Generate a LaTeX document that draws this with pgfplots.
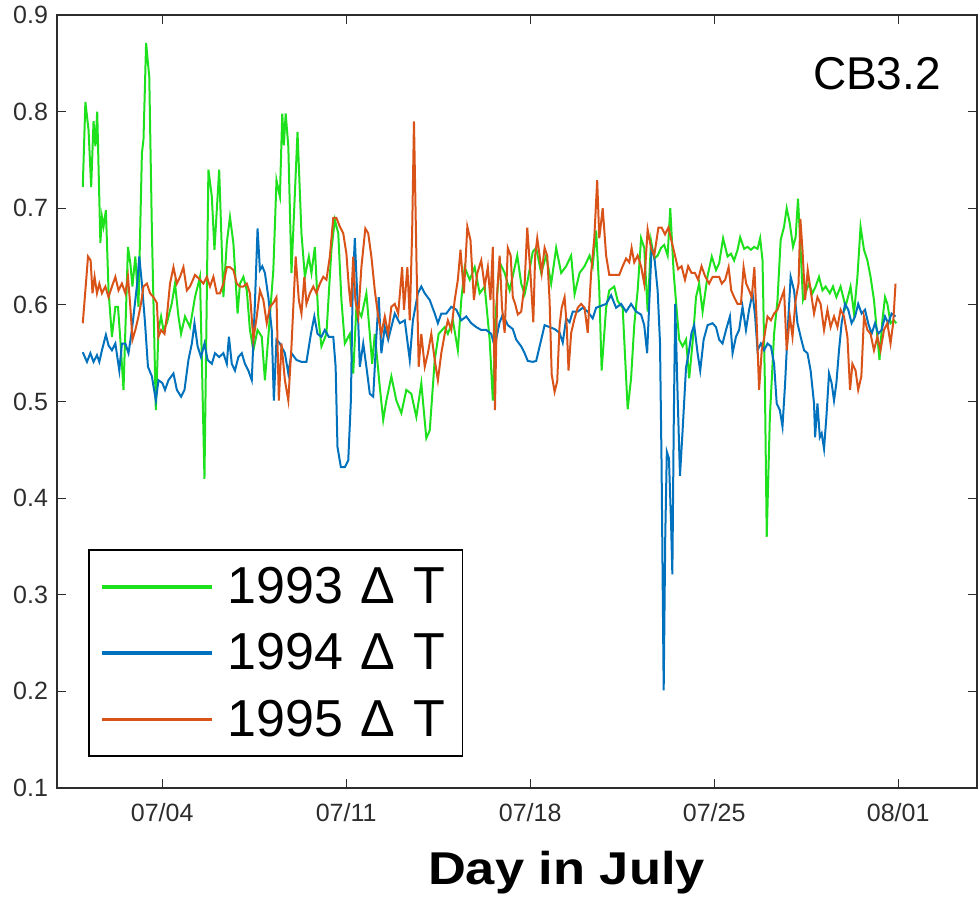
\documentclass[border=0pt]{standalone}
\usepackage{fontspec}
\setmainfont{Liberation Sans}
\usepackage{graphicx}
\usepackage{pgfplots}
\pgfplotsset{compat=1.18}

\definecolor{g93}{RGB}{30,225,30}
\definecolor{b94}{RGB}{0,114,189}
\definecolor{o95}{RGB}{217,83,25}
\definecolor{axgray}{RGB}{45,45,45}

\begin{document}
\begin{tikzpicture}
\path[use as bounding box] (0,0) rectangle (489pt,449.5pt);
\begin{axis}[
    at={(28.5pt,55.5pt)}, anchor=south west,
    scale only axis,
    width=460pt, height=386.5pt,
    xmin=0, xmax=35,
    ymin=0.1, ymax=0.9,
    xtick={4,11,18,25,32},
    xticklabels={07/04,07/11,07/18,07/25,08/01},
    ytick={0.1,0.2,0.3,0.4,0.5,0.6,0.7,0.8,0.9},
    yticklabel style={/pgf/number format/fixed,/pgf/number format/precision=1,xshift=-1pt},
    /pgf/number format/assume math mode=true,
    ticklabel style={font=\fontsize{12.5}{15}\selectfont, text=axgray},
    xticklabel style={yshift=-4pt},
    major tick length=4.7pt,
    tick style={axgray, line width=0.6pt},
    axis line style={axgray, line width=0.6pt},
    legend cell align=left,
    legend style={at={(0.0337,0.0401)}, anchor=south west,
        draw=black, line width=0.8pt,
        inner xsep=5.5pt, inner ysep=5.5pt,
        font=\fontsize{26}{30}\selectfont,
        row sep=7.5pt, column sep=4pt,
        nodes={inner sep=3pt}},
    legend image code/.code={\draw[#1, line width=1.8pt] (0pt,0pt) -- (55pt,0pt);},
    every axis plot/.append style={line width=1pt},
]

% 1993
\addplot[g93] coordinates {
(0.98,0.722)(1.08,0.810)(1.20,0.781)(1.30,0.722)(1.39,0.790)(1.46,0.764)(1.53,0.800)(1.65,0.664)(1.71,0.691)(1.77,0.681)
(1.86,0.698)(1.96,0.615)(2.09,0.567)(2.22,0.598)(2.32,0.598)(2.41,0.564)(2.53,0.512)(2.70,0.660)(2.79,0.643)(2.87,0.619)
(2.98,0.650)(3.10,0.598)(3.23,0.757)(3.29,0.771)(3.39,0.871)(3.51,0.836)(3.61,0.677)(3.76,0.491)(3.86,0.574)(3.96,0.588)
(4.05,0.574)(4.18,0.581)(4.37,0.602)(4.49,0.622)(4.62,0.588)(4.72,0.570)(4.87,0.588)(5.06,0.577)(5.25,0.608)(5.44,0.629)
(5.61,0.420)(5.76,0.740)(5.89,0.712)(5.99,0.657)(6.17,0.740)(6.33,0.608)(6.46,0.664)(6.58,0.691)(6.71,0.664)(6.87,0.591)
(6.96,0.622)(7.09,0.629)(7.22,0.615)(7.34,0.574)(7.47,0.553)(7.63,0.574)(7.79,0.567)(7.91,0.522)(8.06,0.574)(8.23,0.636)
(8.35,0.729)(8.48,0.712)(8.57,0.798)(8.63,0.765)(8.70,0.798)(8.80,0.764)(8.92,0.633)(9.15,0.779)(9.30,0.674)(9.43,0.629)
(9.58,0.650)(9.68,0.633)(9.81,0.660)(9.94,0.588)(10.06,0.557)(10.25,0.570)(10.44,0.657)(10.57,0.688)(10.70,0.674)(10.82,0.605)
(10.95,0.560)(11.14,0.570)(11.27,0.529)(11.39,0.598)(11.58,0.588)(11.77,0.612)(11.90,0.570)(11.99,0.539)(12.09,0.570)(12.28,0.515)
(12.41,0.481)(12.53,0.501)(12.72,0.526)(12.91,0.501)(13.10,0.488)(13.29,0.512)(13.48,0.508)(13.67,0.484)(13.86,0.519)(14.05,0.462)
(14.18,0.470)(14.37,0.543)(14.52,0.570)(14.75,0.577)(14.87,0.570)(15.06,0.584)(15.25,0.553)(15.38,0.605)(15.51,0.639)(15.70,0.626)
(15.89,0.639)(16.08,0.612)(16.27,0.619)(16.46,0.564)(16.58,0.501)(16.71,0.598)(16.84,0.644)(17.03,0.633)(17.22,0.615)(17.34,0.630)
(17.51,0.651)(17.66,0.622)(17.79,0.611)(17.91,0.626)(18.10,0.655)(18.23,0.659)(18.42,0.633)(18.61,0.651)(18.80,0.622)(18.99,0.659)
(19.18,0.633)(19.37,0.640)(19.56,0.651)(19.69,0.611)(19.88,0.633)(20.07,0.640)(20.26,0.651)(20.38,0.640)(20.51,0.677)(20.63,0.615)
(20.72,0.532)(20.89,0.597)(21.01,0.615)(21.20,0.619)(21.33,0.604)(21.52,0.597)(21.71,0.492)(21.84,0.524)(21.96,0.579)(22.09,0.615)
(22.22,0.669)(22.34,0.659)(22.47,0.593)(22.60,0.666)(22.72,0.648)(22.85,0.651)(22.98,0.659)(23.10,0.662)(23.23,0.651)(23.33,0.700)
(23.46,0.633)(23.58,0.593)(23.67,0.564)(23.80,0.557)(23.93,0.564)(24.05,0.524)(24.18,0.561)(24.31,0.608)(24.43,0.622)(24.56,0.593)
(24.75,0.630)(24.91,0.650)(25.07,0.636)(25.19,0.643)(25.34,0.669)(25.51,0.650)(25.64,0.653)(25.76,0.646)(25.89,0.657)(25.99,0.670)
(26.14,0.658)(26.27,0.660)(26.40,0.657)(26.52,0.660)(26.65,0.658)(26.75,0.669)(26.84,0.646)(26.93,0.519)(27.00,0.360)(27.12,0.484)
(27.28,0.570)(27.41,0.605)(27.53,0.667)(27.66,0.681)(27.76,0.700)(27.88,0.684)(28.00,0.660)(28.10,0.670)(28.19,0.710)(28.29,0.657)
(28.38,0.605)(28.51,0.615)(28.61,0.622)(28.74,0.612)(28.86,0.619)(28.99,0.629)(29.12,0.615)(29.24,0.619)(29.40,0.612)(29.52,0.619)
(29.65,0.608)(29.81,0.619)(30.00,0.598)(30.19,0.619)(30.32,0.591)(30.45,0.629)(30.57,0.681)(30.70,0.657)(30.83,0.646)(30.95,0.629)
(31.08,0.605)(31.21,0.567)(31.29,0.543)(31.40,0.584)(31.50,0.608)(31.59,0.601)(31.71,0.581)(31.84,0.584)(31.93,0.581)
};
\addlegendentry{1993\hspace{0.33em}Δ\hspace{0.36em}T\hspace{3.5pt}}

% 1994
\addplot[b94] coordinates {
(0.98,0.551)(1.14,0.541)(1.27,0.550)(1.39,0.541)(1.52,0.548)(1.61,0.541)(1.71,0.553)(1.86,0.569)(1.96,0.558)(2.09,0.553)
(2.22,0.560)(2.37,0.532)(2.47,0.560)(2.60,0.560)(2.72,0.550)(2.85,0.574)(2.95,0.598)(3.05,0.622)(3.13,0.650)(3.23,0.622)
(3.35,0.581)(3.46,0.536)(3.61,0.526)(3.76,0.501)(3.86,0.522)(4.01,0.519)(4.11,0.512)(4.24,0.522)(4.43,0.529)(4.56,0.512)
(4.72,0.505)(4.85,0.512)(5.00,0.543)(5.13,0.560)(5.23,0.581)(5.35,0.557)(5.48,0.546)(5.61,0.560)(5.73,0.543)(5.89,0.539)
(6.01,0.550)(6.17,0.546)(6.33,0.550)(6.46,0.539)(6.54,0.567)(6.65,0.539)(6.77,0.532)(6.90,0.546)(7.03,0.550)(7.15,0.539)
(7.28,0.532)(7.41,0.522)(7.53,0.602)(7.63,0.679)(7.72,0.636)(7.81,0.640)(7.91,0.633)(8.04,0.608)(8.17,0.574)(8.25,0.501)
(8.35,0.564)(8.48,0.560)(8.67,0.550)(8.80,0.529)(8.92,0.550)(9.11,0.543)(9.30,0.541)(9.49,0.541)(9.66,0.570)(9.79,0.588)
(9.91,0.570)(10.06,0.567)(10.19,0.574)(10.34,0.567)(10.51,0.567)(10.60,0.536)(10.67,0.453)(10.80,0.432)(10.95,0.432)(11.08,0.439)
(11.18,0.501)(11.25,0.619)(11.33,0.669)(11.43,0.605)(11.52,0.536)(11.65,0.560)(11.77,0.536)(11.90,0.508)(12.03,0.505)(12.15,0.567)
(12.24,0.608)(12.34,0.550)(12.47,0.577)(12.60,0.564)(12.72,0.577)(12.85,0.591)(13.04,0.581)(13.23,0.584)(13.42,0.543)(13.54,0.584)
(13.73,0.612)(13.86,0.619)(13.99,0.612)(14.18,0.605)(14.37,0.591)(14.49,0.581)(14.62,0.591)(14.81,0.591)(15.00,0.598)(15.19,0.595)
(15.38,0.584)(15.57,0.588)(15.76,0.581)(15.95,0.577)(16.14,0.574)(16.33,0.574)(16.52,0.570)(16.65,0.557)(16.84,0.582)(16.96,0.590)
(17.15,0.579)(17.34,0.575)(17.47,0.564)(17.66,0.557)(17.79,0.550)(17.91,0.542)(18.10,0.541)(18.23,0.542)(18.36,0.557)(18.55,0.579)
(18.74,0.577)(18.93,0.575)(19.12,0.571)(19.24,0.561)(19.37,0.586)(19.50,0.582)(19.62,0.593)(19.81,0.593)(20.00,0.597)(20.19,0.593)
(20.38,0.586)(20.51,0.597)(20.70,0.599)(20.89,0.601)(21.08,0.610)(21.27,0.597)(21.46,0.601)(21.65,0.593)(21.84,0.601)(22.03,0.593)
(22.22,0.590)(22.34,0.579)(22.45,0.550)(22.53,0.601)(22.62,0.659)(22.72,0.651)(22.85,0.615)(22.94,0.561)(23.00,0.434)(23.08,0.201)
(23.14,0.361)(23.20,0.448)(23.28,0.441)(23.36,0.375)(23.41,0.321)(23.46,0.470)(23.52,0.601)(23.61,0.506)(23.70,0.423)(23.80,0.470)
(23.93,0.535)(24.03,0.550)(24.14,0.571)(24.24,0.579)(24.37,0.550)(24.47,0.532)(24.60,0.564)(24.75,0.579)(24.94,0.581)(25.07,0.577)
(25.19,0.564)(25.32,0.560)(25.45,0.574)(25.60,0.588)(25.70,0.550)(25.83,0.567)(25.95,0.574)(26.08,0.598)(26.21,0.574)(26.33,0.595)
(26.46,0.612)(26.56,0.588)(26.65,0.553)(26.78,0.560)(26.90,0.553)(27.03,0.560)(27.16,0.557)(27.28,0.539)(27.38,0.498)(27.50,0.491)
(27.60,0.474)(27.70,0.519)(27.79,0.570)(27.91,0.629)(28.04,0.615)(28.17,0.581)(28.29,0.567)(28.42,0.553)(28.55,0.550)(28.67,0.532)
(28.80,0.498)(28.84,0.463)(28.93,0.498)(29.02,0.463)(29.09,0.467)(29.18,0.451)(29.27,0.484)(29.37,0.529)(29.47,0.519)(29.56,0.501)
(29.65,0.519)(29.75,0.553)(29.85,0.581)(29.98,0.601)(30.10,0.595)(30.23,0.581)(30.36,0.588)(30.48,0.601)(30.61,0.591)(30.74,0.595)
(30.86,0.581)(30.99,0.570)(31.12,0.581)(31.24,0.570)(31.37,0.574)(31.50,0.588)(31.62,0.581)(31.75,0.591)(31.90,0.588)
};
\addlegendentry{1994\hspace{0.33em}Δ\hspace{0.36em}T\hspace{3.5pt}}

% 1995
\addplot[o95] coordinates {
(0.98,0.581)(1.08,0.615)(1.18,0.650)(1.28,0.646)(1.35,0.612)(1.43,0.629)(1.52,0.612)(1.61,0.622)(1.71,0.612)(1.84,0.619)
(1.96,0.608)(2.09,0.619)(2.22,0.629)(2.34,0.615)(2.47,0.622)(2.60,0.612)(2.70,0.629)(2.79,0.598)(2.87,0.564)(2.98,0.574)
(3.10,0.588)(3.20,0.602)(3.29,0.619)(3.42,0.622)(3.54,0.612)(3.67,0.608)(3.80,0.602)(3.86,0.567)(3.96,0.574)(4.09,0.570)
(4.18,0.588)(4.30,0.622)(4.43,0.639)(4.56,0.622)(4.68,0.629)(4.81,0.639)(4.94,0.615)(5.06,0.619)(5.25,0.631)(5.44,0.626)
(5.57,0.622)(5.70,0.629)(5.82,0.619)(5.95,0.629)(6.08,0.612)(6.20,0.612)(6.33,0.622)(6.46,0.639)(6.58,0.639)(6.71,0.636)
(6.84,0.622)(6.96,0.619)(7.09,0.619)(7.22,0.622)(7.34,0.612)(7.47,0.564)(7.60,0.588)(7.72,0.615)(7.85,0.605)(7.98,0.581)
(8.10,0.598)(8.23,0.602)(8.35,0.608)(8.44,0.501)(8.54,0.560)(8.67,0.522)(8.80,0.501)(8.92,0.557)(9.08,0.650)(9.20,0.605)
(9.30,0.591)(9.41,0.629)(9.49,0.601)(9.62,0.612)(9.75,0.619)(9.87,0.612)(10.00,0.622)(10.13,0.629)(10.25,0.626)(10.38,0.650)
(10.51,0.690)(10.63,0.690)(10.76,0.681)(10.89,0.674)(11.01,0.653)(11.10,0.619)(11.18,0.598)(11.27,0.650)(11.35,0.605)(11.46,0.588)
(11.58,0.639)(11.73,0.679)(11.84,0.674)(11.96,0.650)(12.09,0.615)(12.22,0.588)(12.34,0.570)(12.47,0.588)(12.60,0.570)(12.72,0.598)
(12.85,0.601)(12.98,0.591)(13.13,0.639)(13.20,0.595)(13.33,0.639)(13.42,0.584)(13.51,0.674)(13.58,0.790)(13.68,0.639)(13.76,0.536)
(13.86,0.570)(13.99,0.536)(14.11,0.550)(14.24,0.570)(14.37,0.543)(14.49,0.522)(14.62,0.550)(14.75,0.570)(14.87,0.584)(15.00,0.574)
(15.13,0.605)(15.25,0.626)(15.35,0.657)(15.48,0.612)(15.61,0.681)(15.73,0.667)(15.86,0.605)(15.99,0.633)(16.14,0.646)(16.27,0.619)
(16.39,0.639)(16.49,0.605)(16.58,0.660)(16.66,0.491)(16.75,0.615)(16.84,0.651)(16.93,0.597)(17.03,0.571)(17.15,0.659)(17.26,0.651)
(17.34,0.608)(17.43,0.601)(17.53,0.590)(17.66,0.593)(17.79,0.622)(17.89,0.680)(18.01,0.633)(18.12,0.582)(18.19,0.651)(18.27,0.669)
(18.36,0.651)(18.44,0.633)(18.55,0.659)(18.65,0.651)(18.74,0.604)(18.82,0.528)(18.93,0.510)(19.03,0.521)(19.12,0.579)(19.20,0.597)
(19.31,0.608)(19.39,0.579)(19.46,0.532)(19.56,0.571)(19.69,0.586)(19.81,0.597)(19.94,0.601)(20.07,0.597)(20.19,0.571)(20.32,0.633)
(20.44,0.669)(20.55,0.729)(20.63,0.669)(20.76,0.700)(20.89,0.651)(21.01,0.631)(21.20,0.631)(21.39,0.631)(21.52,0.640)(21.65,0.648)
(21.77,0.644)(21.86,0.659)(21.96,0.644)(22.09,0.651)(22.22,0.640)(22.34,0.622)(22.47,0.678)(22.60,0.659)(22.72,0.651)(22.88,0.680)
(23.00,0.680)(23.13,0.673)(23.26,0.680)(23.38,0.666)(23.51,0.651)(23.63,0.637)(23.76,0.640)(23.89,0.626)(24.01,0.640)(24.14,0.633)
(24.27,0.633)(24.39,0.626)(24.52,0.640)(24.65,0.630)(24.81,0.622)(24.94,0.629)(25.07,0.629)(25.19,0.629)(25.29,0.622)(25.42,0.626)
(25.55,0.639)(25.65,0.615)(25.76,0.608)(25.89,0.601)(26.02,0.601)(26.12,0.639)(26.22,0.622)(26.33,0.615)(26.43,0.608)(26.53,0.639)
(26.61,0.588)(26.71,0.512)(26.81,0.553)(26.91,0.567)(27.03,0.588)(27.16,0.584)(27.28,0.591)(27.41,0.595)(27.53,0.605)(27.66,0.615)
(27.76,0.553)(27.88,0.588)(27.98,0.567)(28.10,0.605)(28.21,0.622)(28.28,0.689)(28.36,0.657)(28.46,0.605)(28.56,0.636)(28.67,0.615)
(28.80,0.591)(28.93,0.608)(29.05,0.601)(29.18,0.574)(29.31,0.595)(29.43,0.577)(29.56,0.588)(29.69,0.577)(29.81,0.595)(29.94,0.588)
(30.07,0.567)(30.17,0.512)(30.26,0.539)(30.38,0.532)(30.48,0.512)(30.60,0.526)(30.70,0.588)(30.83,0.574)(30.95,0.570)(31.08,0.553)
(31.21,0.567)(31.33,0.553)(31.46,0.574)(31.59,0.581)(31.71,0.560)(31.81,0.581)(31.90,0.622)
};
\addlegendentry{1995\hspace{0.33em}Δ\hspace{0.36em}T\hspace{3.5pt}}
\end{axis}

\node[anchor=base, inner sep=0pt, font=\fontsize{23}{27}\selectfont] at (438.5pt,404.5pt) {CB3.2};
\node[anchor=base, inner sep=0pt, font=\bfseries\fontsize{23}{27}\selectfont] at (283.25pt,7.5pt) {\scalebox{1.14}[1]{Day in July}};
\end{tikzpicture}
\end{document}
